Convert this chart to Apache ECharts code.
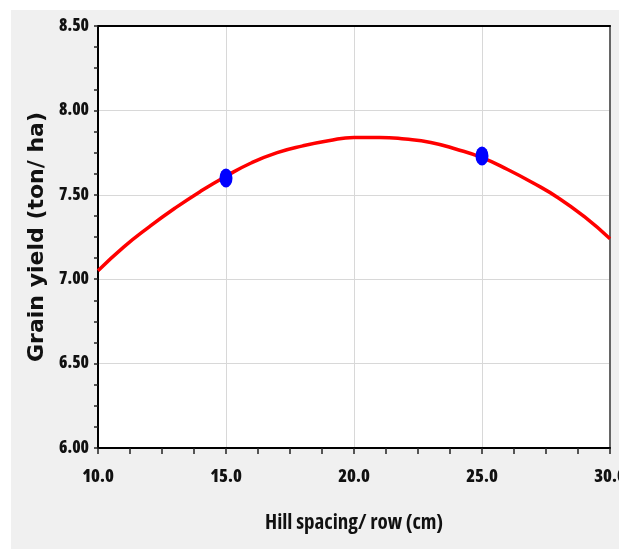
<!DOCTYPE html>
<html>
<head>
<meta charset="utf-8">
<script src="https://cdn.jsdelivr.net/npm/echarts@6/dist/echarts.min.js"></script>
<style>
html,body{margin:0;padding:0;background:#fff;}
#wrap{position:relative;width:619px;height:549px;}
#bg{position:absolute;left:11px;top:10px;width:608px;height:539px;background:#f0f0f0;}
#chart{position:absolute;left:0;top:0;width:619px;height:549px;}
</style>
</head>
<body>
<div id="wrap"><div id="bg"></div><div id="chart"></div></div>
<script>
// Fitted curve (x in cm, y in ton/ha)
const curveX = [10,11,12,13,14,15,16,17,18,19,20,21,22,23,24,25,26,27,28,29,30];
const curveY = [7.05,7.19,7.31,7.42,7.52,7.61,7.69,7.75,7.79,7.82,7.84,7.84,7.83,7.81,7.77,7.72,7.65,7.57,7.48,7.37,7.24];
// Observed points
const obsX = [15, 25];
const obsY = [7.60, 7.73];
const xTitle = 'Hill spacing/ row (cm)';
const yTitle = 'Grain yield (ton/ ha)';

const chart = echarts.init(document.getElementById('chart'), null, {renderer:'canvas'});
const labelFont = "'Open Sans', sans-serif";
chart.setOption({
  animation: false,
  backgroundColor: 'transparent',
  grid: {left: 98, top: 26, right: 9, bottom: 101, show: true, backgroundColor: '#ffffff', borderWidth: 0, outerBoundsMode: 'none', containLabel: false},
  xAxis: [{
    type: 'value', min: 10, max: 30, interval: 5, position: 'bottom',
    axisLine: {show: true, onZero: false, lineStyle: {color: '#000', width: 2}},
    axisTick: {show: true, length: 6, lineStyle: {color: '#222', width: 1.5}},
    minorTick: {show: true, splitNumber: 4, length: 6, lineStyle: {color: '#222', width: 1.5}},
    axisLabel: {formatter: v => v.toFixed(1), fontFamily: labelFont, fontStyle: 'condensed', fontWeight: 800, fontSize: 18, color: '#111', margin: 20},
    splitLine: {show: true, lineStyle: {color: '#d8d8d8', width: 1}},
    name: xTitle, nameLocation: 'middle', nameGap: 65,
    nameTextStyle: {fontFamily: labelFont, fontStyle: 'condensed', fontWeight: 700, fontSize: 21, color: '#111'}
  }, {
    type: 'value', min: 10, max: 30, position: 'top',
    axisLine: {show: true, onZero: false, lineStyle: {color: '#000', width: 2}},
    axisTick: {show: false}, axisLabel: {show: false}, splitLine: {show: false}
  }],
  yAxis: [{
    type: 'value', min: 6, max: 8.5, interval: 0.5, position: 'left',
    axisLine: {show: true, onZero: false, lineStyle: {color: '#000', width: 2}},
    axisTick: {show: true, length: 4, lineStyle: {color: '#222', width: 1.5}},
    minorTick: {show: true, splitNumber: 4, length: 4, lineStyle: {color: '#222', width: 1.5}},
    axisLabel: {formatter: v => v.toFixed(2), fontFamily: labelFont, fontStyle: 'condensed', fontWeight: 800, fontSize: 17, color: '#111', margin: 9},
    splitLine: {show: true, lineStyle: {color: '#d8d8d8', width: 1}},
    name: yTitle, nameLocation: 'middle', nameGap: 50,
    nameTextStyle: {fontFamily: 'DejaVu Sans, Verdana, sans-serif', fontWeight: 'bold', fontSize: 22, color: '#111'}
  }, {
    type: 'value', min: 6, max: 8.5, position: 'right',
    axisLine: {show: true, onZero: false, lineStyle: {color: '#666', width: 2}},
    axisTick: {show: false}, axisLabel: {show: false}, splitLine: {show: false}
  }],
  series: [{
    type: 'line', xAxisIndex: 0, yAxisIndex: 0, smooth: true, showSymbol: false,
    data: curveX.map((x, i) => [x, curveY[i]]),
    lineStyle: {color: '#ff0000', width: 3.5}, z: 2
  }, {
    type: 'scatter', xAxisIndex: 0, yAxisIndex: 0,
    data: obsX.map((x, i) => [x, obsY[i]]),
    symbol: 'circle', symbolSize: [13, 19],
    itemStyle: {color: '#0000ff', opacity: 1}, z: 3
  }]
});
</script>
</body>
</html>
